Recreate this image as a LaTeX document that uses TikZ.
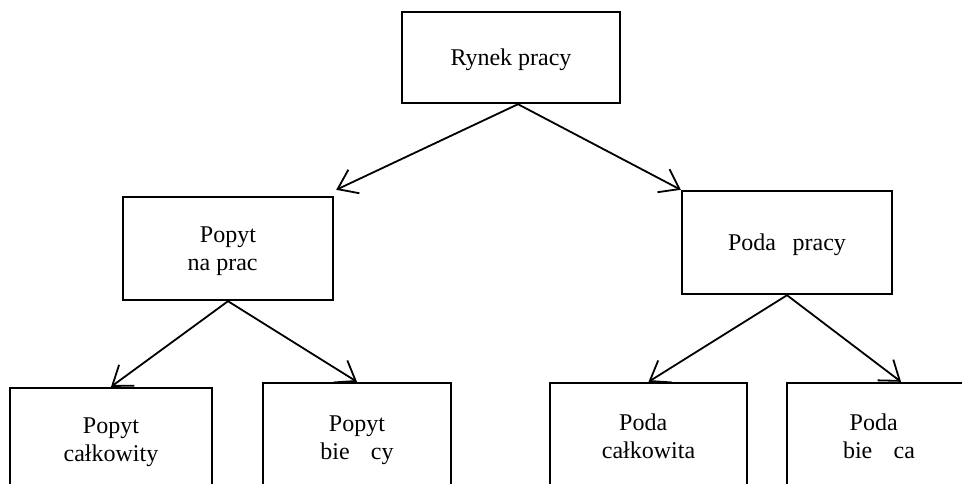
\documentclass[tikz,border=0pt]{standalone}
\usepackage{fontspec}
\setmainfont{Liberation Serif}
\usetikzlibrary{arrows.meta}
\tikzset{
  blok/.style={draw, line width=1.2pt, align=center, inner sep=0pt, text depth=-1.5pt},
  strz/.style={-{Straight Barb[length=9pt,width=13pt,line width=0.9pt]}, line width=0.9pt}
}
\begin{document}
\begin{tikzpicture}[x=0.5pt,y=-0.5pt,font=\fontsize{12}{14}\selectfont]
      \clip (0,0) rectangle (962,483);
      \draw
        (511,57.5) node[blok, minimum width=109pt, minimum height=45.5pt] (rynek){Rynek pracy}
        (228,248.5) node[blok, minimum width=105pt, minimum height=51.5pt] (popyt){Popyt\\na prac\phantom{ę}}
        (787,242.5) node[blok, minimum width=105pt, minimum height=51.5pt] (podaz){Poda\phantom{ż} pracy}
        (111,440) node[blok, minimum width=101pt, minimum height=52pt] (pcalk){Popyt\\całkowity}
        (357,438) node[blok, minimum width=94pt, minimum height=55pt] (pbiez){Popyt\\bie\phantom{żą}cy}
        (648.5,436) node[blok, minimum width=98.5pt, minimum height=53pt] (dcalk){Poda\phantom{ż}\\całkowita}
        (879,436) node[blok, minimum width=92pt, minimum height=53pt] (dbiez){Poda\phantom{ż}\\bie\phantom{żą}ca};
      \begin{scope}[strz]
        \draw ([xshift=3.5pt]rynek.south) to ([xshift=1pt,yshift=3pt]popyt.north east);
        \draw ([xshift=3.5pt]rynek.south) to (podaz.north west);
        \draw (popyt.south) to (pcalk.north);
        \draw (popyt.south) to (pbiez.north);
        \draw (podaz.south) to (dcalk.north);
        \draw (podaz.south) to ([xshift=11pt]dbiez.north);
      \end{scope}
    \end{tikzpicture}
\end{document}
